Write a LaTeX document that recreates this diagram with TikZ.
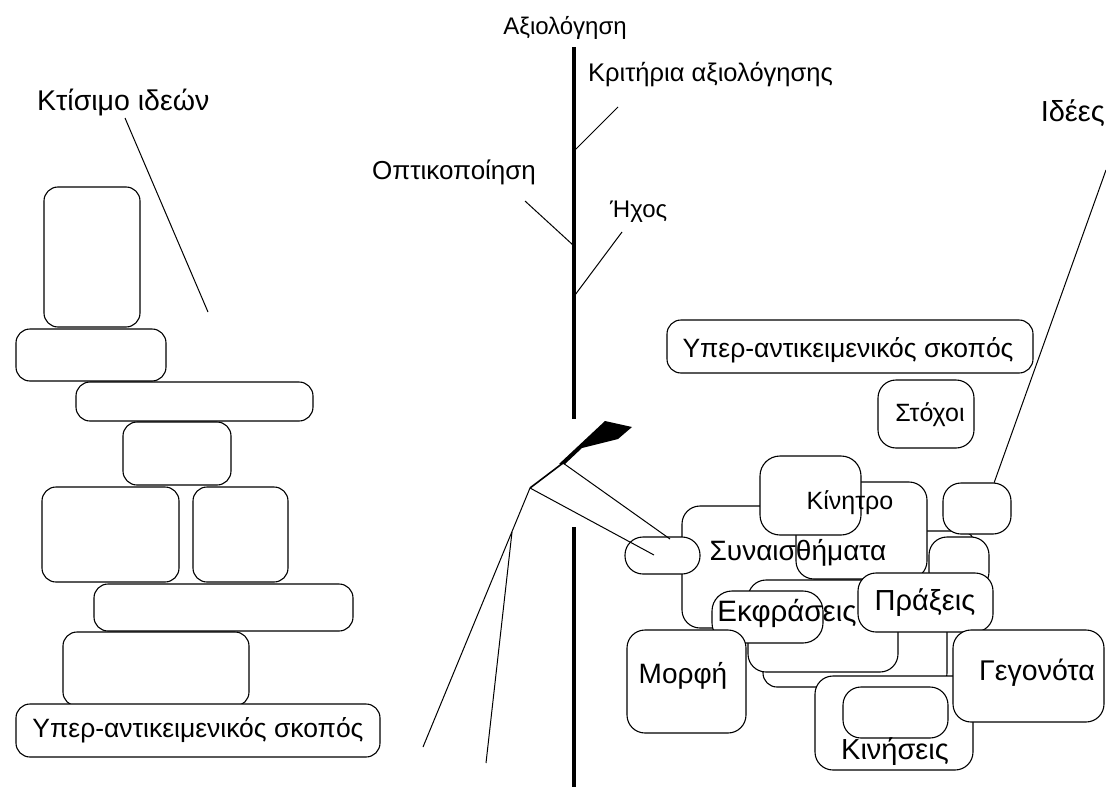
\documentclass[tikz,border=0pt]{standalone}
\usepackage{fontspec}
\setmainfont{Liberation Sans}
\begin{document}
\begin{tikzpicture}[x=1pt,y=-1pt,
  box/.style={draw, rounded corners=#1, fill=white, line width=1.1pt, inner sep=0pt, outer sep=0pt},
  box/.default=14pt,
  sz/.style 2 args={minimum width=#1 pt, minimum height=#2 pt},
  lbl/.style={font=\fontsize{#1}{#1}\selectfont, inner sep=0pt},
  lbl/.default=25,
  conn/.style={line width=1pt},
  axisline/.style={line width=4pt}]
\useasboundingbox (0,0) rectangle (1106,787);
% ---------- left stack ----------
\node[box, sz={96}{140}] (L1) at (92,257) {};
\node[box, sz={150}{52}] (L2) at (91,355) {};
\node[box, sz={237}{39}] (L3) at (194.5,401.5) {};
\node[box, sz={108}{63}] (L4) at (177,453.5) {};
\node[box, sz={137}{95}] (L5) at (110.5,534.5) {};
\node[box, sz={95}{95}] (L6) at (240.5,534.5) {};
\node[box, sz={259}{47}] (L7) at (223.5,607.5) {};
\node[box, sz={186}{74}] (L8) at (156,669) {};
\node[box, sz={364}{53}] (L9) at (198,730.5) {};
% ---------- right cluster ----------
\node[box, sz={366}{53}] (RT) at (850,346.5) {};
\node[box=18pt, sz={96}{68}] (ST) at (926,414) {};
\node[box, sz={175}{69}] (H) at (887.5,565.5) {};
\node[box, sz={184}{87}] (E3) at (855,643.5) {};
\node[box=18pt, sz={218}{122}] (S) at (791,567) {};
\node[box=18pt, sz={131}{97}] (K2) at (861.5,530.5) {};
\node[box=20pt, sz={101}{79}] (KIN) at (810.5,495.5) {};
\node[box=18pt, sz={75}{37}] (P1) at (662.5,555.5) {};
\node[box=18pt, sz={150}{92}] (E2) at (823,626) {};
\node[box=20pt, sz={111}{52}] (EK) at (767.5,617) {};
\node[box=18pt, sz={68}{51}] (R1) at (977,508.5) {};
\node[box=18pt, sz={60}{53}] (R2) at (959,563.5) {};
\node[box=18pt, sz={135}{59}] (PR) at (925.5,602.5) {};
\node[box=18pt, sz={119}{103}] (MO) at (686.5,681.5) {};
\node[box=18pt, sz={158}{94}] (KN) at (894,723) {};
\node[box=18pt, sz={105}{51}] (KNi) at (895.5,712.5) {};
\node[box=18pt, sz={151}{92}] (GE) at (1028.5,676) {};
% ---------- axis ----------
\coordinate (axA) at (574,47);
\coordinate (axB) at (574,419);
\coordinate (axC) at (574,527);
\coordinate (axD) at (574,787);
\draw[axisline] (axA) -- (axB);
\draw[axisline] (axC) -- (axD);
\coordinate (b1s) at (618,107); \coordinate (b1e) at (575,150);
\coordinate (b2s) at (525,201); \coordinate (b2e) at (573,245);
\coordinate (b3s) at (622,232); \coordinate (b3e) at (575,295);
\draw[conn] (b1s) -- (b1e);
\draw[conn] (b2s) -- (b2e);
\draw[conn] (b3s) -- (b3e);
% ---------- flag figure ----------
\coordinate (f0) at (530,488);
\coordinate (f1) at (563,463);
\coordinate (legA) at (423,747);
\coordinate (legJ) at (512,532);
\coordinate (legB) at (486,763);
\coordinate (pin1) at (654,555);
\coordinate (pin2) at (670,539);
\draw[conn] (legA) -- (f0);
\draw[conn] (legJ) -- (legB);
\draw[conn] (f0) -- (pin1);
\draw[conn] (f1) -- (pin2);
\draw[line width=1.6pt] (f0) -- (f1);
\fill (559,464) -- (605,421) -- (632,427) -- (618,439) -- (582,448) -- (565,464) -- cycle;
% ---------- other lines ----------
\coordinate (kt1) at (125,118); \coordinate (kt2) at (208,312);
\draw[conn] (kt1) -- (kt2);
\coordinate (id1) at (1106,170); \coordinate (id2) at (994,483);
\draw[conn] (id1) -- (id2);
% ---------- texts ----------
\node[lbl=28.5, anchor=west] (tKt) at (37,102) {Κτίσιμο ιδεών};
\node[lbl=24] (tAx) at (565,28) {Αξιολόγηση};
\node[lbl=25.5, anchor=west] (tKr) at (588,75) {Κριτήρια αξιολόγησης};
\node[lbl=26, anchor=west] (tOp) at (372,172) {Οπτικοποίηση};
\node[lbl=24, anchor=west] (tHx) at (610,212) {Ήχος};
\node[lbl=29, anchor=east] (tId) at (1105,113) {Ιδέες};
\node[lbl=26.5] (tL9) at (L9) {Υπερ-αντικειμενικός σκοπός};
\node[lbl=26.5] (tRT) at (848,350) {Υπερ-αντικειμενικός σκοπός};
\node[lbl] (tST) at (930,415) {Στόχοι};
\node[lbl] (tKI) at (850,503) {Κίνητρο};
\node[lbl=28] (tSY) at (798,553) {Συναισθήματα};
\node[lbl=29.5] (tEK) at (787,613) {Εκφράσεις};
\node[lbl=29] (tPR) at (925,603) {Πράξεις};
\node[lbl=28] (tMO) at (683,676) {Μορφή};
\node[lbl=28.5] (tGE) at (1037,673) {Γεγονότα};
\node[lbl=29] (tKN) at (895,752) {Κινήσεις};
\end{tikzpicture}
\end{document}
